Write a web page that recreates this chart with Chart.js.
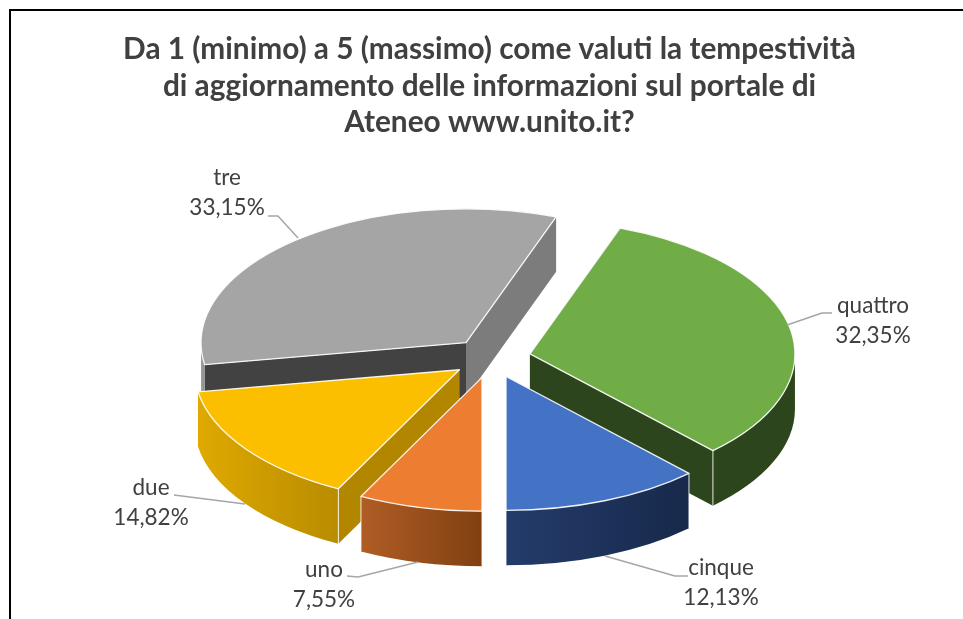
<!DOCTYPE html>
<html>
<head>
<meta charset="utf-8">
<style>
html,body{margin:0;padding:0;background:#fff;}
#wrap{width:963px;height:619px;position:relative;}
canvas{filter:blur(0.45px);}
</style>
<script src="https://cdn.jsdelivr.net/npm/chart.js@4"></script>
</head>
<body>
<div id="wrap"><canvas id="c" width="963" height="619"></canvas></div>
<script>
const categories = ['uno', 'due', 'tre', 'quattro', 'cinque'];
const shares = [7.55, 14.82, 33.15, 32.35, 12.13];
const titleLines = [
  'Da 1 (minimo) a 5 (massimo) come valuti la tempestività',
  'di aggiornamento delle informazioni sul portale di',
  'Ateneo www.unito.it?'
];
const topColors = ['#ed7d31', '#fbbf00', '#a5a5a5', '#70ad47', '#4472c4'];
const wallLeft = ['#b05d25', '#dfa900', '#a0a0a0', '#2d451c', '#243c6b'];
const wallRight = ['#804012', '#b98c00', '#8c8c8c', '#2d451c', '#17294b'];
const sideStart = ['#804012', '#b38600', '#424242', '#2d451c', '#172949'];
const sideEnd = ['#804012', '#b38600', '#7c7c7c', '#2d451c', '#172949'];
const paintOrder = [2, 3, 1, 0, 4];
const labelBoxes = [
  {x: 324, y: 570, line: [[347,576],[358,577],[418,562]]},
  {x: 151, y: 488, line: [[174,495],[245,504]]},
  {x: 227, y: 178, line: [[268,216],[278,216],[298,238]]},
  {x: 873, y: 306, line: [[832,313],[822,313],[787,325]]},
  {x: 721, y: 568, line: [[688,576],[675,576],[605,556]]}
];
const centerX = 491.3, centerY = 358, squash = 0.505, depth = 55, explode = 39.5, lineGap = 30;
const labelFont = '22.5px Lato', labelColor = '#404040';

function frontSpans(a0, a1) {
  const out = [];
  for (let w = -2; w < 3; w++) {
    const lo = Math.max(a0, w * 2 * Math.PI), hi = Math.min(a1, w * 2 * Math.PI + Math.PI);
    if (hi > lo) out.push([lo, hi]);
  }
  return out;
}

const pie3d = {
  id: 'pie3d',
  beforeDraw(chart) {
    const ctx = chart.ctx;
    ctx.save();
    ctx.fillStyle = '#fff';
    ctx.fillRect(0, 0, chart.width, chart.height);
    ctx.fillStyle = '#000';
    ctx.fillRect(9, 9, 2, chart.height - 9);
    ctx.fillRect(9, 9, chart.width - 9, 2);
    ctx.restore();
  },
  beforeDatasetDraw(chart, args) {
    const ctx = chart.ctx;
    const arcs = chart.getDatasetMeta(args.index).data;
    paintOrder.forEach(i => {
      const el = arcs[i];
      const a0 = el.startAngle, a1 = el.endAngle, R = el.outerRadius;
      const mid = (a0 + a1) / 2;
      const cx = centerX + Math.cos(mid) * explode;
      const cy = centerY + Math.sin(mid) * explode * squash;
      const rY = R * squash;
      const px = a => cx + Math.cos(a) * R, py = a => cy + Math.sin(a) * rY;

      const side = (a, col) => {
        ctx.beginPath();
        ctx.moveTo(cx, cy);
        ctx.lineTo(px(a), py(a));
        ctx.lineTo(px(a), py(a) + depth);
        ctx.lineTo(cx, cy + depth);
        ctx.closePath();
        ctx.fillStyle = col;
        ctx.fill();
      };
      side(a0, sideStart[i]);
      side(a1, sideEnd[i]);

      frontSpans(a0, a1).forEach(([lo, hi]) => {
        const xa = px(lo), xb = px(hi);
        const g = ctx.createLinearGradient(Math.min(xa, xb), 0, Math.max(xa, xb), 0);
        g.addColorStop(0, wallLeft[i]);
        g.addColorStop(1, wallRight[i]);
        ctx.beginPath();
        ctx.ellipse(cx, cy, R, rY, 0, lo, hi);
        ctx.lineTo(px(hi), py(hi) + depth);
        ctx.ellipse(cx, cy + depth, R, rY, 0, hi, lo, true);
        ctx.closePath();
        ctx.fillStyle = g;
        ctx.fill();
      });

      // vertical corner highlights
      ctx.strokeStyle = 'rgba(255,255,255,0.85)';
      ctx.lineWidth = 1;
      [a0, a1].forEach(a => {
        if (Math.sin(a) > 0.2) {
          ctx.beginPath();
          ctx.moveTo(px(a), py(a));
          ctx.lineTo(px(a), py(a) + depth);
          ctx.stroke();
        }
      });

      // top face: the library's own arc element under a flattening transform
      ctx.save();
      ctx.translate(cx, cy);
      ctx.scale(1, squash);
      ctx.translate(-el.x, -el.y);
      el.draw(ctx);
      ctx.restore();

      ctx.beginPath();
      ctx.moveTo(cx, cy);
      ctx.ellipse(cx, cy, R, rY, 0, a0, a1);
      ctx.closePath();
      ctx.strokeStyle = 'rgba(255,255,255,0.9)';
      ctx.lineWidth = 1.3;
      ctx.lineJoin = 'round';
      ctx.stroke();
    });
    return false;
  },
  afterDatasetsDraw(chart) {
    const ctx = chart.ctx;
    ctx.save();
    ctx.font = labelFont;
    ctx.textAlign = 'center';
    ctx.textBaseline = 'middle';
    categories.forEach((name, i) => {
      const b = labelBoxes[i];
      ctx.beginPath();
      b.line.forEach((p, j) => j ? ctx.lineTo(p[0], p[1]) : ctx.moveTo(p[0], p[1]));
      ctx.strokeStyle = '#a6a6a6';
      ctx.lineWidth = 1.5;
      ctx.stroke();
      ctx.fillStyle = labelColor;
      ctx.fillText(name, b.x, b.y);
      ctx.fillText(shares[i].toFixed(2).replace('.', ',') + '%', b.x, b.y + lineGap);
    });
    ctx.restore();
  }
};

new Chart(document.getElementById('c'), {
  type: 'pie',
  data: {
    labels: categories,
    datasets: [{
      data: shares,
      backgroundColor: topColors,
      borderWidth: 0
    }]
  },
  plugins: [pie3d],
  options: {
    responsive: false,
    animation: false,
    rotation: 180,
    radius: 265,
    layout: {padding: {left: 16, right: 0, top: 0, bottom: 0}},
    plugins: {
      legend: {display: false},
      tooltip: {enabled: false},
      title: {
        display: true,
        text: titleLines,
        color: '#404040',
        font: {family: 'Lato', size: 29.8, weight: 'bold', lineHeight: 1.23},
        padding: {top: 31, bottom: 10}
      }
    }
  }
});
</script>
</body>
</html>
